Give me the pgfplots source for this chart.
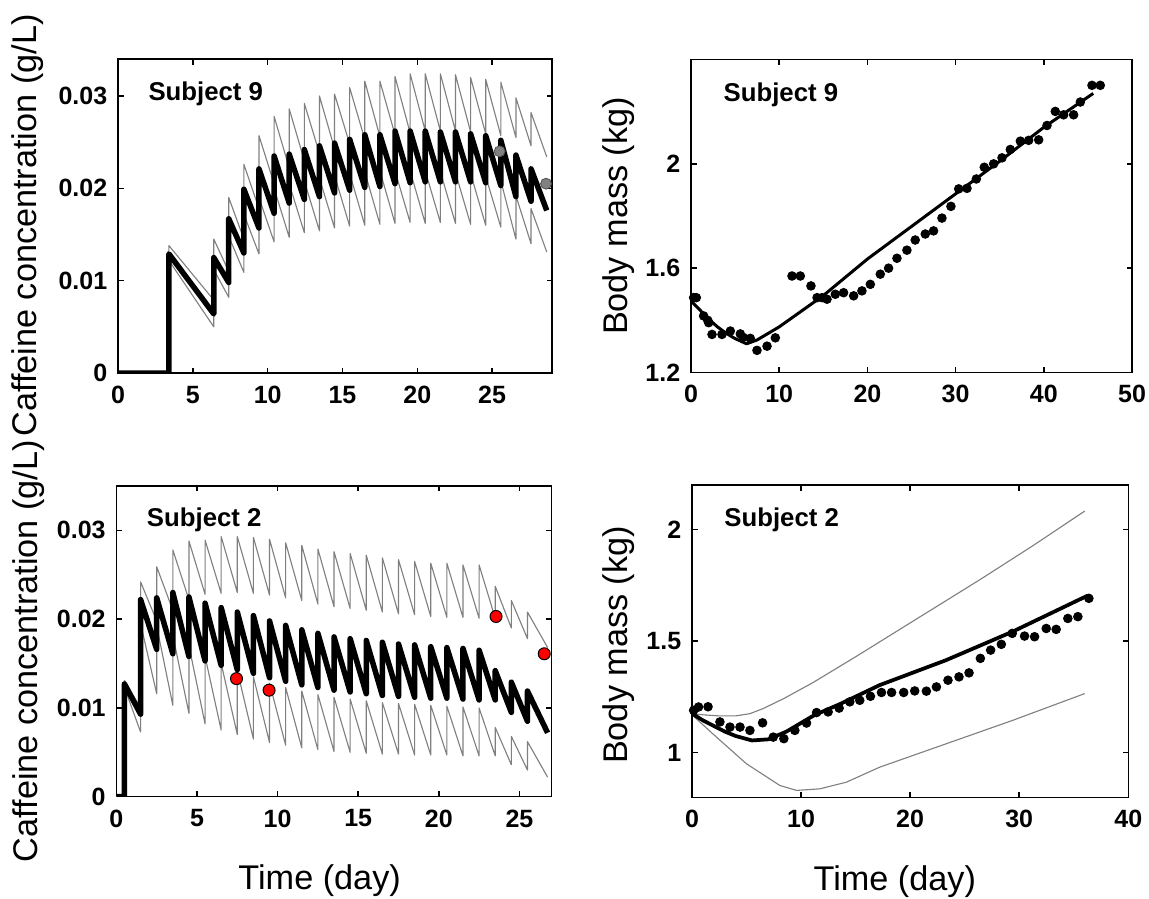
\documentclass[border=0pt]{standalone}
\usepackage{fontspec}
\setmainfont{Liberation Sans}
\usepackage{pgfplots}
\pgfplotsset{compat=1.18}

\definecolor{bandgrey}{RGB}{128,128,128}
\definecolor{dotgrey}{RGB}{128,128,128}

\pgfplotsset{
  panel/.style={
    scale only axis,
    anchor=south west,
    axis line style={black, line width=0.6pt},
    every tick/.style={black, line width=0.6pt},
    major tick length=2.2pt,
    tick align=inside,
    scaled ticks=false,
    /pgf/number format/assume math mode=true,
    tick label style={font=\fontsize{10}{12}\selectfont\bfseries},
    xticklabel style={yshift=-1.6pt},
    yticklabel style={xshift=-0.8pt},
    label style={font=\fontsize{13.7}{16}\selectfont},
  },
  band/.style={bandgrey, line width=0.45pt, line join=round},
  fit/.style={black, line width=2.2pt, line join=round},
}
\tikzset{subj/.style={anchor=west, font=\fontsize{10.3}{12}\selectfont\bfseries}}

\begin{document}
\begin{tikzpicture}
\useasboundingbox (0,0) rectangle (459.6pt,-359.2pt);

% ---- top left: caffeine, subject 9 ----
\begin{axis}[panel,
  at={(47.2pt,-149.2pt)}, width=173.6pt, height=125.6pt,
  xmin=0, xmax=29, ymin=0, ymax=0.034,
  xtick={0,5,10,15,20,25},
  ytick={0,0.01,0.02,0.03}, yticklabels={0,0.01,0.02,0.03},
  ylabel={Caffeine concentration (g/L)},
  ylabel style={at={(axis description cs:-0.187,0.47)}, anchor=base},
]
\addplot[band] coordinates {
(0,0) (3.4,0) (3.4,0.0138) (6.4,0.0079) (6.4,0.0145) (7.4,0.0110) (7.4,0.0190)
(8.41,0.0145) (8.41,0.0226) (9.42,0.0178) (9.42,0.0257) (10.43,0.0205) (10.43,0.0278)
(11.44,0.0222) (11.44,0.0286) (12.45,0.0230) (12.45,0.0292) (13.46,0.0238) (13.46,0.0300)
(14.47,0.0243) (14.47,0.0302) (15.48,0.0248) (15.48,0.0309) (16.49,0.0253) (16.49,0.0316)
(17.50,0.0256) (17.50,0.0316) (18.51,0.0258) (18.51,0.0321) (19.52,0.0260) (19.52,0.0324)
(20.53,0.0262) (20.53,0.0324) (21.54,0.0262) (21.54,0.0324) (22.55,0.0262) (22.55,0.0323)
(23.56,0.0261) (23.56,0.0320) (24.57,0.0259) (24.57,0.0318) (25.58,0.0257) (25.58,0.0315)
(26.59,0.0255) (26.59,0.0298) (27.60,0.0246) (27.60,0.0282) (28.65,0.0234)
};
\addplot[band] coordinates {
(0,0) (3.4,0) (3.4,0.0122) (6.4,0.0050) (6.4,0.0112) (7.4,0.0082) (7.4,0.0148)
(8.41,0.0109) (8.41,0.0172) (9.42,0.0129) (9.42,0.0190) (10.43,0.0142) (10.43,0.0200)
(11.44,0.0147) (11.44,0.0205) (12.45,0.0152) (12.45,0.0208) (13.46,0.0154) (13.46,0.0211)
(14.47,0.0157) (14.47,0.0214) (15.48,0.0159) (15.48,0.0216) (16.49,0.0160) (16.49,0.0218)
(17.50,0.0161) (17.50,0.0219) (18.51,0.0162) (18.51,0.0219) (19.52,0.0163) (19.52,0.0219)
(20.53,0.0162) (20.53,0.0219) (21.54,0.0163) (21.54,0.0218) (22.55,0.0162) (22.55,0.0217)
(23.56,0.0161) (23.56,0.0216) (24.57,0.0160) (24.57,0.0213) (25.58,0.0158) (25.58,0.0208)
(26.59,0.0145) (26.59,0.0192) (27.60,0.0140) (27.60,0.0178) (28.65,0.0131)
};
\addplot[fit] coordinates {
(0,0) (3.4,0) (3.4,0.0129) (6.4,0.0064) (6.4,0.0125) (7.4,0.0098) (7.4,0.0167)
(8.41,0.0130) (8.41,0.0199) (9.42,0.0157) (9.42,0.0221) (10.43,0.0173) (10.43,0.0235)
(11.44,0.0184) (11.44,0.0237) (12.45,0.0188) (12.45,0.0242) (13.46,0.0191) (13.46,0.0246)
(14.47,0.0195) (14.47,0.0249) (15.48,0.0198) (15.48,0.0253) (16.49,0.0201) (16.49,0.0258)
(17.50,0.0202) (17.50,0.0258) (18.51,0.0205) (18.51,0.0262) (19.52,0.0206) (19.52,0.0262)
(20.53,0.0207) (20.53,0.0262) (21.54,0.0207) (21.54,0.0261) (22.55,0.0207) (22.55,0.0261)
(23.56,0.0207) (23.56,0.0259) (24.57,0.0206) (24.57,0.0257) (25.58,0.0203) (25.58,0.0252)
(26.59,0.0191) (26.59,0.0236) (27.60,0.0186) (27.60,0.0221) (28.65,0.0176)
};
\addplot[only marks, mark=*, mark size=2.2pt,
  mark options={fill=dotgrey, draw=black!70, line width=0.3pt}] coordinates {
(25.5,0.0240) (28.6,0.0205)
};
\node[subj] at (rel axis cs:0.05,0.89) {Subject 9};
\end{axis}

% ---- top right: body mass, subject 9 ----
\begin{axis}[panel,
  at={(276.4pt,-149pt)}, width=176.4pt, height=125.2pt,
  xmin=0, xmax=50, ymin=1.2, ymax=2.4,
  xtick={0,10,20,30,40,50},
  ytick={1.2,1.6,2}, yticklabels={1.2,1.6,2},
  ylabel={Body mass (kg)},
  ylabel style={at={(axis description cs:-0.143,0.5)}, anchor=base},
]
\addplot[black, line width=1.2pt, line join=round] coordinates {
(0,1.474) (1,1.44) (2,1.405) (3,1.375) (4,1.35) (5,1.33) (6.3,1.31) (7.5,1.325)
(10,1.375) (15,1.495) (20,1.635) (25,1.76) (30,1.885) (35,2.01) (40,2.14) (45.6,2.27)
};
\addplot[only marks, mark=*, mark size=1.7pt, mark options={fill=black, draw=black}] coordinates {
(0.3,1.487) (0.6,1.487) (1.43,1.417) (1.9,1.40) (2.0,1.391) (2.38,1.346) (3.51,1.346)
(4.46,1.359) (5.59,1.348) (5.9,1.335) (6.72,1.331) (7.48,1.285) (8.62,1.301) (9.56,1.333)
(11.45,1.570) (12.39,1.570) (13.6,1.532) (14.29,1.487) (14.85,1.487) (15.42,1.481)
(16.36,1.500) (17.3,1.506) (18.44,1.494) (19.38,1.513) (20.33,1.538) (21.46,1.577)
(22.4,1.600) (23.35,1.638) (24.48,1.669) (25.42,1.708) (26.56,1.731) (27.5,1.743)
(28.45,1.792) (29.47,1.837) (30.35,1.904) (31.29,1.906) (32.35,1.942) (33.25,1.987)
(34.31,2.000) (35.26,2.023) (36.2,2.055) (37.34,2.087) (38.28,2.090) (39.42,2.092)
(40.36,2.147) (41.3,2.201) (42.25,2.188) (43.38,2.188) (44.14,2.237) (45.46,2.301)
(46.4,2.301)
};
\node[subj] at (rel axis cs:0.054,0.887) {Subject 9};
\end{axis}

% ---- bottom left: caffeine, subject 2 ----
\begin{axis}[panel,
  at={(46.56pt,-318.68pt)}, width=174.1pt, height=124.3pt,
  xmin=0, xmax=27, ymin=0, ymax=0.035,
  xtick={0,5,10,15,20,25},
  ytick={0,0.01,0.02,0.03}, yticklabels={0,0.01,0.02,0.03},
  xlabel={Time (day)},
  xlabel style={at={(axis description cs:0.467,-0.299)}, anchor=base},
  ylabel={Caffeine concentration (g/L)},
  ylabel style={at={(axis description cs:-0.182,0.469)}, anchor=base},
]
\addplot[band] coordinates {
(0,0) (0.5,0) (0.5,0.0131) (1.5,0.0100) (1.5,0.0242) (2.5,0.0198) (2.5,0.0259)
(3.5,0.0210) (3.5,0.0278) (4.5,0.0222) (4.5,0.0288) (5.5,0.0228) (5.5,0.0289)
(6.5,0.0229) (6.5,0.0293) (7.5,0.0230) (7.5,0.0293) (8.5,0.0229) (8.5,0.0292)
(9.5,0.0227) (9.5,0.0290) (10.5,0.0224) (10.5,0.0286) (11.5,0.0221) (11.5,0.0283)
(12.5,0.0217) (12.5,0.0279) (13.5,0.0214) (13.5,0.0276) (14.5,0.0212) (14.5,0.0274)
(15.5,0.0210) (15.5,0.0272) (16.5,0.0208) (16.5,0.0269) (17.5,0.0206) (17.5,0.0267)
(18.5,0.0205) (18.5,0.0265) (19.5,0.0203) (19.5,0.0263) (20.5,0.0202) (20.5,0.0263)
(21.5,0.0202) (21.5,0.0261) (22.5,0.0201) (22.5,0.0261) (23.5,0.0201) (23.5,0.0237)
(24.5,0.0190) (24.5,0.0221) (25.5,0.0178) (25.5,0.0208) (26.75,0.0168)
};
\addplot[band] coordinates {
(0,0) (0.5,0) (0.5,0.0123) (1.5,0.0073) (1.5,0.0195) (2.5,0.0116) (2.5,0.0192)
(3.5,0.0103) (3.5,0.0182) (4.5,0.0094) (4.5,0.0170) (5.5,0.0082) (5.5,0.0158)
(6.5,0.0075) (6.5,0.0150) (7.5,0.0070) (7.5,0.0142) (8.5,0.0065) (8.5,0.0135)
(9.5,0.0061) (9.5,0.0128) (10.5,0.0058) (10.5,0.0123) (11.5,0.0055) (11.5,0.0119)
(12.5,0.0053) (12.5,0.0115) (13.5,0.0051) (13.5,0.0112) (14.5,0.0050) (14.5,0.0110)
(15.5,0.0049) (15.5,0.0108) (16.5,0.0048) (16.5,0.0106) (17.5,0.0048) (17.5,0.0105)
(18.5,0.0047) (18.5,0.0104) (19.5,0.0047) (19.5,0.0103) (20.5,0.0047) (20.5,0.0102)
(21.5,0.0046) (21.5,0.0101) (22.5,0.0046) (22.5,0.0100) (23.5,0.0046) (23.5,0.0078)
(24.5,0.0036) (24.5,0.0068) (25.5,0.0030) (25.5,0.0062) (26.75,0.0022)
};
\addplot[fit] coordinates {
(0,0) (0.5,0) (0.5,0.0127) (1.5,0.0093) (1.5,0.0222) (2.5,0.0166) (2.5,0.0224)
(3.5,0.0161) (3.5,0.0230) (4.5,0.0158) (4.5,0.0225) (5.5,0.0153) (5.5,0.0218)
(6.5,0.0148) (6.5,0.0213) (7.5,0.0143) (7.5,0.0208) (8.5,0.0139) (8.5,0.0204)
(9.5,0.0134) (9.5,0.0198) (10.5,0.0130) (10.5,0.0193) (11.5,0.0126) (11.5,0.0188)
(12.5,0.0123) (12.5,0.0184) (13.5,0.0120) (13.5,0.0180) (14.5,0.0118) (14.5,0.0178)
(15.5,0.0116) (15.5,0.0176) (16.5,0.0114) (16.5,0.0174) (17.5,0.0113) (17.5,0.0172)
(18.5,0.0112) (18.5,0.0171) (19.5,0.0111) (19.5,0.0169) (20.5,0.0111) (20.5,0.0168)
(21.5,0.0110) (21.5,0.0167) (22.5,0.0109) (22.5,0.0165) (23.5,0.0109) (23.5,0.0142)
(24.5,0.0095) (24.5,0.0129) (25.5,0.0085) (25.5,0.0119) (26.75,0.0072)
};
\addplot[only marks, mark=*, mark size=2.4pt,
  mark options={fill=red, draw=black, line width=0.4pt}] coordinates {
(7.45,0.0133) (9.47,0.0120) (23.55,0.0203) (26.54,0.0161)
};
\node[subj] at (rel axis cs:0.05,0.892) {Subject 2};
\end{axis}

% ---- bottom right: body mass, subject 2 ----
\begin{axis}[panel,
  at={(276.8pt,-318.92pt)}, width=174.5pt, height=124.9pt,
  xmin=0, xmax=40, ymin=0.8, ymax=2.2,
  xtick={0,10,20,30,40},
  ytick={1,1.5,2}, yticklabels={1,1.5,2},
  xlabel={Time (day)},
  xlabel style={at={(axis description cs:0.465,-0.299)}, anchor=base},
  ylabel={Body mass (kg)},
  ylabel style={at={(axis description cs:-0.147,0.488)}, anchor=base},
]
\addplot[band] coordinates {
(0,1.175) (1,1.17) (2.5,1.165) (4,1.165) (5.3,1.175) (6.53,1.198) (8.5,1.245)
(11.11,1.315) (15,1.43) (20.27,1.59) (26.37,1.775) (31,1.92) (36,2.083)
};
\addplot[band] coordinates {
(0,1.17) (1.9,1.085) (5.0,0.95) (8.06,0.853) (9.58,0.831) (11.72,0.838) (14.16,0.868)
(17.2,0.935) (23.3,1.04) (29.4,1.145) (36,1.265)
};
\addplot[black, line width=1.5pt, line join=round] coordinates {
(0,1.175) (1,1.145) (2,1.12) (3,1.095) (4,1.075) (5.5,1.055) (7,1.06) (8.67,1.095)
(11.2,1.168) (13.65,1.22) (17.2,1.303) (23.3,1.415) (29.4,1.543) (36.3,1.705)
};
\addplot[only marks, mark=*, mark size=1.7pt, mark options={fill=black, draw=black}] coordinates {
(0.15,1.19) (0.6,1.205) (1.47,1.206) (2.56,1.138) (3.48,1.115) (4.40,1.115) (5.31,1.100)
(6.47,1.134) (7.45,1.070) (8.42,1.063) (9.43,1.100) (10.5,1.133) (11.42,1.180)
(12.48,1.183) (13.49,1.200) (14.47,1.228) (15.38,1.235) (16.36,1.253) (17.37,1.270)
(18.3,1.270) (19.41,1.270) (20.42,1.277) (21.49,1.276) (22.41,1.295) (23.47,1.325)
(24.48,1.340) (25.4,1.358) (26.44,1.423) (27.38,1.460) (28.36,1.486) (29.36,1.535)
(30.49,1.523) (31.41,1.520) (32.48,1.557) (33.39,1.553) (34.46,1.602) (35.38,1.610)
(36.39,1.692)
};
\node[subj] at (rel axis cs:0.054,0.889) {Subject 2};
\end{axis}

\end{tikzpicture}
\end{document}
